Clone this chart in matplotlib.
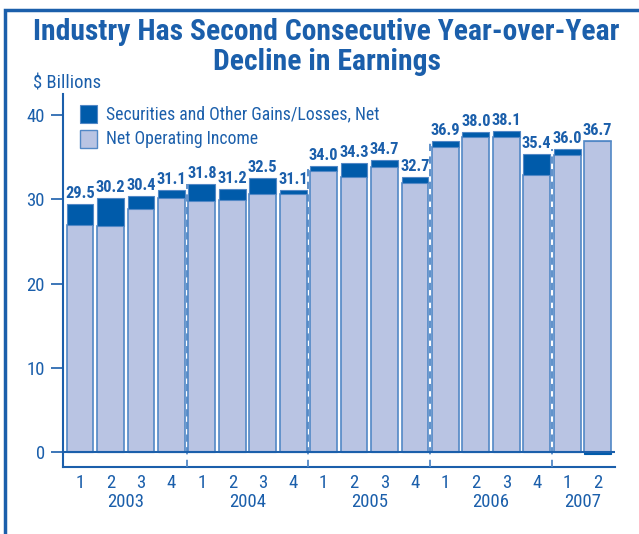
import numpy as np
import matplotlib.pyplot as plt
from matplotlib.patches import Rectangle

# quarterly earnings, $ billions
quarters = ['1', '2', '3', '4'] * 4 + ['1', '2']
years = ['2003', '2004', '2005', '2006', '2007']
totals = [29.5, 30.2, 30.4, 31.1, 31.8, 31.2, 32.5, 31.1,
          34.0, 34.3, 34.7, 32.7, 36.9, 38.0, 38.1, 35.4, 36.0, 36.7]
net_operating = [27.0, 26.8, 28.8, 30.1, 29.8, 29.9, 30.6, 30.6,
                 33.3, 32.7, 33.8, 31.9, 36.2, 37.4, 37.4, 32.9, 35.2, 36.9]
securities = [round(t - n, 1) for t, n in zip(totals, net_operating)]

blue = '#1b5fab'
dark = '#005baa'
light = '#b9c4e3'
edge = '#5288c6'

plt.rcParams['font.family'] = ['Roboto Condensed', 'Roboto', 'DejaVu Sans']
plt.rcParams['font.stretch'] = 'condensed'

fig = plt.figure(figsize=(6.39, 5.34), dpi=100)
# outer frame
fig.patches.append(Rectangle((0.008, -0.05), 1.1, 1.032, transform=fig.transFigure,
                             fill=False, edgecolor=blue, linewidth=2.5))

fig.text(0.511, 1 - 47 / 534, 'Industry Has Second Consecutive Year-over-Year\nDecline in Earnings',
         ha='center', va='center', fontsize=21.3, fontweight='bold', color=blue,
         linespacing=1.06)
fig.text(33 / 639, 1 - 83 / 534, '$ Billions', ha='left', va='center', fontsize=13.4, color=blue)

ax = fig.add_axes([0.0986, 1 - 467 / 534, 0.8634, 373 / 534])
x = np.arange(len(totals))
w = 0.88

pos = [max(s, 0) for s in securities]
neg = [min(s, 0) for s in securities]
ax.bar(x, net_operating, w, color=light, edgecolor=edge, linewidth=1.2, zorder=2)
ax.bar(x, pos, w, bottom=net_operating, color=dark, edgecolor=edge, linewidth=0.8, zorder=2)
ax.bar(x, neg, w, color=dark, edgecolor=dark, linewidth=0.8, zorder=3)

for xi, t, n in zip(x, totals, net_operating):
    ax.annotate(f'{t:.1f}', (xi, max(t, n)), xytext=(0, 2), textcoords='offset points',
                ha='center', va='bottom', fontsize=11.8, fontweight='semibold', color=blue)

# dashed year separators
for k in range(3, len(totals) - 1, 4):
    top = max(totals[k], totals[k + 1])
    ax.plot([k + 0.5, k + 0.5], [-1.78, top], color=edge, lw=1.3,
            linestyle=(0, (4, 3)), zorder=4, clip_on=False)

ax.axhline(0, color=blue, lw=1.5, zorder=4)
ax.set_xlim(-0.56, len(totals) - 0.44)
ax.set_ylim(-1.78, 42.5)
ax.set_yticks([0, 10, 20, 30, 40])
ax.tick_params(axis='y', direction='out', length=9, width=1.2, color=blue,
               labelcolor=blue, labelsize=13.5, pad=4)
ax.set_xticks(x)
ax.set_xticklabels(quarters)
ax.tick_params(axis='x', length=0, labelcolor=blue, labelsize=13.5, pad=5)

for i, yr in enumerate(years):
    idx = [j for j in range(i * 4, min(i * 4 + 4, len(totals)))]
    ax.text(np.mean(idx), -(501.7 - 467) / 373, yr, transform=ax.get_xaxis_transform(),
            ha='center', va='center', fontsize=13.5, color=blue)

for s in ['top', 'right']:
    ax.spines[s].set_visible(False)
for s in ['left', 'bottom']:
    ax.spines[s].set_color(blue)
    ax.spines[s].set_linewidth(1.5)

# legend
fig.patches.append(Rectangle((80 / 639, 1 - 123 / 534), 17 / 639, 18 / 534,
                             transform=fig.transFigure, facecolor=dark, edgecolor=edge, lw=0.8))
fig.patches.append(Rectangle((80 / 639, 1 - 148 / 534), 17 / 639, 18 / 534,
                             transform=fig.transFigure, facecolor=light, edgecolor=edge, lw=1.0))
fig.text(106 / 639, 1 - 114 / 534, 'Securities and Other Gains/Losses, Net', ha='left', va='center',
         fontsize=12.7, color=blue)
fig.text(106 / 639, 1 - 139 / 534, 'Net Operating Income', ha='left', va='center',
         fontsize=12.7, color=blue)

fig.savefig('out.png', dpi=100)
